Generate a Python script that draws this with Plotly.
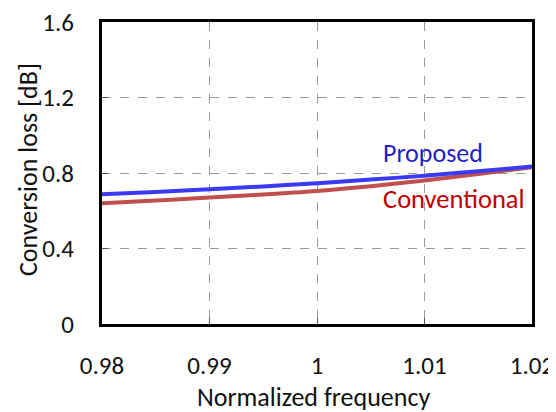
import plotly.graph_objects as go

freq = [0.98, 0.985, 0.99, 0.995, 1.0, 1.005, 1.01, 1.015, 1.02]
proposed = [0.688, 0.700, 0.714, 0.729, 0.746, 0.765, 0.786, 0.809, 0.834]
conventional = [0.640, 0.654, 0.670, 0.686, 0.705, 0.730, 0.760, 0.795, 0.830]
x_ticks = [0.98, 0.99, 1.0, 1.01, 1.02]
x_tick_text = ["0.98", "0.99", "1", "1.01", "1.02"]
y_ticks = [0, 0.4, 0.8, 1.2, 1.6]
y_tick_text = ["0", "0.4", "0.8", "1.2", "1.6"]

FONT = "Carlito, Calibri, Lato, sans-serif"
FS = 26
TICK_FS = 25

fig = go.Figure()
fig.add_trace(go.Scatter(x=freq, y=conventional, mode="lines",
                         line=dict(color="#C0504D", width=4, shape="spline"),
                         name="Conventional", showlegend=False))
fig.add_trace(go.Scatter(x=freq, y=proposed, mode="lines",
                         line=dict(color="#3A3AF5", width=4, shape="spline"),
                         name="Proposed", showlegend=False))

fig.add_annotation(x=1.0108, y=0.906, text="Proposed", showarrow=False,
                   font=dict(family=FONT, size=FS, color="#1F1FBF"))
fig.add_annotation(x=1.0127, y=0.663, text="Conventional", showarrow=False,
                   font=dict(family=FONT, size=26.5, color="#C00000"))

# axis titles
fig.add_annotation(xref="paper", yref="paper", x=0.492, y=-0.242,
                   xanchor="center", yanchor="middle", showarrow=False,
                   text="Normalized frequency", font=dict(family=FONT, size=FS, color="#111111"))
fig.add_annotation(xref="paper", yref="paper", x=-0.172, y=0.51,
                   xanchor="center", yanchor="middle", showarrow=False, textangle=-90,
                   text="Conversion loss [dB]", font=dict(family=FONT, size=FS, color="#111111"))

fig.update_layout(
    width=548, height=404,
    margin=dict(l=94, r=24, t=14, b=88),
    paper_bgcolor="white", plot_bgcolor="white",
    font=dict(family=FONT, size=FS, color="#111111"),
)
fig.update_xaxes(
    range=[0.98, 1.02], tickvals=x_ticks, ticktext=x_tick_text,
    tickfont=dict(size=TICK_FS),
    showline=True, linecolor="black", linewidth=3, mirror=True,
    ticks="inside", ticklen=6, tickcolor="#555555", tickwidth=1,
    showgrid=True, gridcolor="#9A9A9A", gridwidth=1, griddash="dash",
    zeroline=False, ticklabelstandoff=17, automargin=False,
    ticklabeloverflow="allow",
)
fig.update_yaxes(
    range=[0, 1.6], tickvals=y_ticks, ticktext=y_tick_text,
    tickfont=dict(size=TICK_FS),
    showline=True, linecolor="black", linewidth=3, mirror=True,
    ticks="inside", ticklen=6, tickcolor="#555555", tickwidth=1,
    showgrid=True, gridcolor="#9A9A9A", gridwidth=1, griddash="dash",
    zeroline=False, ticklabelstandoff=20, automargin=False,
    ticklabeloverflow="allow",
)

fig.write_html("out.html")
